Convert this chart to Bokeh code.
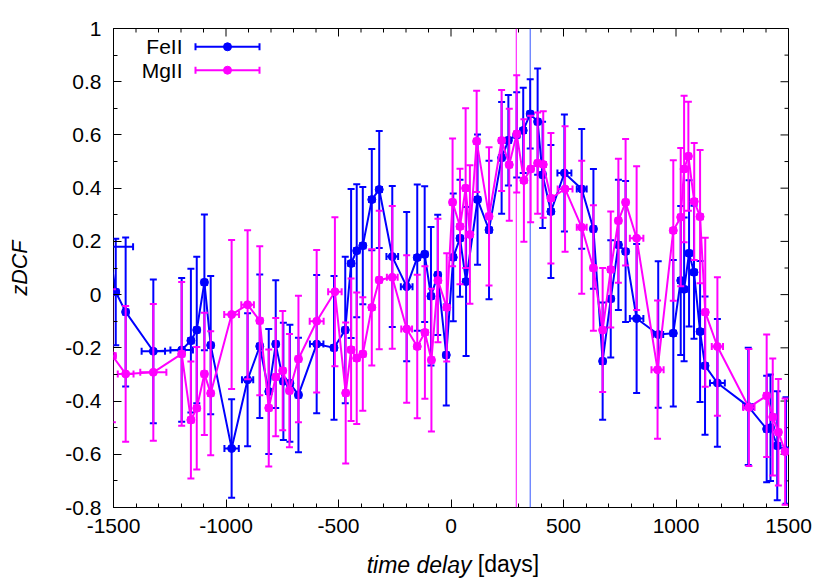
import numpy as np
from math import pi
from bokeh.plotting import figure
from bokeh.models import FixedTicker, LinearAxis, Span, Label, ColumnDataSource, Range1d
from bokeh.embed import file_html
from bokeh.resources import INLINE

# ---------------- data ----------------
fe_x = [-1520, -1490, -1446, -1323, -1197, -1156, -1130, -1096, -1068, -975,
        -904, -850, -810, -779, -745, -716, -678, -597, -520, -470,
        -444, -419, -392, -352, -319, -261, -197, -150, -117, -89,
        -59, -21, 10, 40, 67, 118, 169, 225, 255, 292,
        321, 352, 385, 407, 444, 504, 581, 633, 674, 710,
        744, 776, 825, 921, 988, 1021, 1036, 1058, 1080, 1107,
        1129, 1184, 1321, 1403, 1420, 1450, 1489]
fe_y = [0.18, 0.01, -0.065, -0.213, -0.208, -0.173, -0.133, 0.046, -0.19, -0.578,
        -0.32, -0.194, -0.364, -0.186, -0.326, -0.333, -0.377, -0.186, -0.2, -0.133,
        0.117, 0.165, 0.184, 0.357, 0.395, 0.143, 0.03, 0.139, 0.152, -0.006,
        0.074, -0.227, 0.14, 0.212, 0.049, 0.357, 0.243, 0.514, 0.58, 0.60,
        0.617, 0.679, 0.65, 0.45, 0.312, 0.457, 0.397, 0.247, -0.25, -0.016,
        0.187, 0.162, -0.09, -0.15, -0.145, 0.053, 0.02, 0.155, 0.084, -0.139,
        -0.267, -0.332, -0.42, -0.505, -0.50, -0.568, -0.586]
fe_yerr = [0.2, 0.2, 0.28, 0.27, 0.27, 0.27, 0.275, 0.255, 0.26, 0.185,
           0.25, 0.27, 0.235, 0.24, 0.22, 0.22, 0.215, 0.26, 0.27, 0.275,
           0.28, 0.25, 0.22, 0.19, 0.22, 0.265, 0.28, 0.275, 0.255, 0.26,
           0.226, 0.19, 0.24, 0.22, 0.28, 0.245, 0.26, 0.21, 0.17, 0.16,
           0.16, 0.13, 0.2, 0.2, 0.25, 0.22, 0.225, 0.225, 0.22, 0.22,
           0.245, 0.265, 0.28, 0.275, 0.275, 0.28, 0.27, 0.275, 0.25, 0.265,
           0.26, 0.24, 0.22, 0.2, 0.2, 0.205, 0.2]
fe_xerr = [107, 12, 12, 52, 50, 12, 12, 12, 12, 32,
           25, 12, 12, 12, 12, 12, 12, 30, 12, 12,
           12, 12, 12, 12, 12, 26, 26, 12, 12, 12,
           12, 12, 12, 12, 12, 12, 12, 12, 12, 12,
           12, 12, 12, 12, 12, 31, 22, 12, 12, 12,
           12, 12, 30, 22, 12, 12, 12, 12, 12, 12,
           12, 33, 22, 12, 12, 12, 12]

mg_x = [-1505, -1446, -1323, -1197, -1156, -1130, -1096, -1068, -975, -904,
        -850, -810, -779, -748, -718, -678, -597, -516, -468, -444,
        -419, -392, -352, -319, -261, -197, -150, -116, -87, -58,
        -19, 7, 40, 65, 84, 114, 169, 225, 259, 292,
        324, 354, 385, 410, 444, 507, 581, 633, 674, 710,
        744, 776, 825, 918, 988, 1021, 1036, 1055, 1081, 1107,
        1130, 1184, 1324, 1403, 1430, 1455, 1485]
mg_y = [-0.23, -0.298, -0.292, -0.223, -0.471, -0.427, -0.298, -0.371, -0.075, -0.038,
        -0.098, -0.426, -0.31, -0.286, -0.361, -0.242, -0.1, 0.011, -0.37, -0.207,
        -0.239, -0.223, -0.048, 0.055, 0.065, -0.129, -0.195, -0.142, -0.246, 0.053,
        -0.048, 0.347, 0.256, 0.40, 0.226, 0.576, 0.294, 0.579, 0.488, 0.604,
        0.429, 0.472, 0.494, 0.489, 0.362, 0.397, 0.253, 0.1, -0.133, 0.094,
        0.278, 0.347, 0.212, -0.282, 0.241, 0.291, 0.472, 0.52, 0.35, 0.293,
        -0.066, -0.195, -0.424, -0.38, -0.46, -0.517, -0.59]
mg_yerr = [0.25, 0.255, 0.257, 0.27, 0.22, 0.23, 0.23, 0.233, 0.28, 0.28,
           0.28, 0.22, 0.222, 0.224, 0.213, 0.238, 0.268, 0.28, 0.265, 0.268,
           0.247, 0.213, 0.218, 0.26, 0.268, 0.277, 0.27, 0.249, 0.268, 0.232,
           0.203, 0.24, 0.217, 0.3, 0.26, 0.19, 0.26, 0.19, 0.21, 0.22,
           0.23, 0.2, 0.19, 0.2, 0.245, 0.236, 0.25, 0.236, 0.233, 0.218,
           0.233, 0.238, 0.27, 0.26, 0.264, 0.26, 0.275, 0.205, 0.22, 0.25,
           0.28, 0.26, 0.22, 0.23, 0.22, 0.2, 0.2]
mg_xerr = [15, 35, 58, 12, 12, 12, 12, 12, 33, 28,
           12, 12, 12, 12, 12, 12, 31, 30, 12, 12,
           12, 12, 12, 12, 24, 24, 12, 12, 12, 12,
           12, 12, 12, 12, 12, 12, 12, 12, 12, 12,
           12, 12, 12, 12, 12, 33, 22, 12, 12, 12,
           12, 12, 30, 27, 12, 12, 12, 12, 12, 12,
           12, 25, 25, 12, 12, 12, 12]

peak_mg = 290
peak_fe = 352

x_ticks = [-1500, -1000, -500, 0, 500, 1000, 1500]
x_tick_labels = ["-1500", "-1000", "-500", "0", "500", "1000", "1500"]
y_ticks = [-0.8, -0.6, -0.4, -0.2, 0.0, 0.2, 0.4, 0.6, 0.8, 1.0]
y_tick_labels = ["-0.8", "-0.6", "-0.4", "-0.2", "0", "0.2", "0.4", "0.6", "0.8", "1"]

series = [("FeII", fe_x, fe_y, fe_yerr, fe_xerr, "#0000ff"),
          ("MgII", mg_x, mg_y, mg_yerr, mg_xerr, "#ff00ff")]

# ---------------- figure ----------------
W, H = 830, 581
FL, FR, FT, FB = 113, 788, 28, 507
XR = (-1500, 1500)
YR = (-0.8, 1.0)
FONT = "Liberation Sans"
TICK_FS = "21px"
LAB_FS = "23px"

p = figure(width=W, height=H, x_range=Range1d(*XR), y_range=Range1d(*YR),
           output_backend="svg", toolbar_location=None,
           min_border_left=FL, min_border_right=W - FR,
           min_border_top=FT, min_border_bottom=H - FB)
p.background_fill_color = "white"
p.border_fill_color = "white"
p.outline_line_color = "black"
p.outline_line_width = 1
p.xgrid.visible = False
p.ygrid.visible = False


def dx(fx):
    return XR[0] + (fx - FL) / (FR - FL) * (XR[1] - XR[0])


def dy(fy):
    return YR[0] + (FB - fy) / (FB - FT) * (YR[1] - YR[0])


x_minor = list(range(-1500, 1501, 100))
y_minor = [round(-0.8 + 0.1 * i, 1) for i in range(19)]


def style_axis(ax, ticks, minor, labels):
    ax.ticker = FixedTicker(ticks=ticks, minor_ticks=minor)
    ax.axis_line_color = None
    ax.major_tick_in = 8
    ax.major_tick_out = 0
    ax.minor_tick_in = 4
    ax.minor_tick_out = 0
    ax.major_tick_line_color = "black"
    ax.minor_tick_line_color = "black"
    ax.major_tick_line_width = 1
    ax.minor_tick_line_width = 1
    ax.major_label_overrides = {t: l for t, l in zip(ticks, labels)}
    ax.major_label_text_font = FONT
    ax.major_label_text_font_size = TICK_FS
    ax.major_label_text_color = "black"


xa = p.xaxis[0]
style_axis(xa, x_ticks, x_minor, x_tick_labels)
xa.major_label_standoff = 11
NB = "\u00a0"
xa.axis_label = "time delay" + NB * 10
xa.axis_label_text_font = FONT
xa.axis_label_text_font_size = LAB_FS
xa.axis_label_text_font_style = "italic"
xa.axis_label_text_color = "black"
xa.axis_label_standoff = 16

ya = p.yaxis[0]
style_axis(ya, y_ticks, y_minor, y_tick_labels)
ya.major_label_standoff = 12
ya.axis_label = "zDCF"
ya.axis_label_text_font = FONT
ya.axis_label_text_font_size = "21.5px"
ya.axis_label_text_font_style = "italic"
ya.axis_label_text_color = "black"
ya.axis_label_standoff = 30

# second (tick-less) bottom axis carrying the upright "[days]" part of the label
xa2 = LinearAxis(ticker=FixedTicker(ticks=[]), axis_line_color=None,
                 major_tick_in=0, major_tick_out=0, minor_tick_in=0, minor_tick_out=0,
                 major_label_standoff=0,
                 axis_label=NB * 18 + "[days]", axis_label_text_font=FONT,
                 axis_label_text_font_size=LAB_FS, axis_label_text_font_style="normal",
                 axis_label_text_color="black", axis_label_standoff=-30)
p.add_layout(xa2, "below")

# mirrored inward ticks on top and right (frame-clipped dashes)
top_minor = [t for t in x_minor if t not in x_ticks]
right_minor = [t for t in y_minor if t not in y_ticks]
p.scatter(x=x_ticks, y=[YR[1]] * len(x_ticks), marker="dash", angle=pi / 2, size=16,
          line_color="black", line_width=1)
p.scatter(x=top_minor, y=[YR[1]] * len(top_minor), marker="dash", angle=pi / 2, size=8,
          line_color="black", line_width=1)
p.scatter(x=[XR[1]] * len(y_ticks), y=y_ticks, marker="dash", size=16,
          line_color="black", line_width=1)
p.scatter(x=[XR[1]] * len(right_minor), y=right_minor, marker="dash", size=8,
          line_color="black", line_width=1)

# peak lines
p.add_layout(Span(location=peak_mg, dimension="height", line_color="#ff00ff",
                  line_width=1, level="underlay"))
p.add_layout(Span(location=peak_fe, dimension="height", line_color="#3355ff",
                  line_width=1, level="underlay"))

LW = 2
CAP = 7
for name, xs, ys, yerr, xerr, col in series:
    x = np.array(xs, float)
    y = np.array(ys, float)
    ye = np.array(yerr, float)
    xe = np.array(xerr, float)
    src = ColumnDataSource(dict(x=x, y=y, ylo=y - ye, yhi=y + ye, xlo=x - xe, xhi=x + xe))
    p.segment(x0="x", y0="ylo", x1="x", y1="yhi", source=src, line_color=col, line_width=LW)
    p.scatter(x="x", y="ylo", source=src, marker="dash", size=CAP, line_color=col, line_width=LW)
    p.scatter(x="x", y="yhi", source=src, marker="dash", size=CAP, line_color=col, line_width=LW)
    p.segment(x0="xlo", y0="y", x1="xhi", y1="y", source=src, line_color=col, line_width=LW)
    p.scatter(x="xlo", y="y", source=src, marker="dash", angle=pi / 2, size=CAP, line_color=col, line_width=LW)
    p.scatter(x="xhi", y="y", source=src, marker="dash", angle=pi / 2, size=CAP, line_color=col, line_width=LW)
    p.line(x="x", y="y", source=src, line_color=col, line_width=LW)
    p.scatter(x="x", y="y", source=src, marker="circle", size=8, fill_color=col, line_color=col)

# legend (gnuplot style: text left, sample right)
leg_rows = [46.3, 69.7]
for (name, xs, ys, yerr, xerr, col), fy in zip(series, leg_rows):
    p.add_layout(Label(x=dx(182), y=dy(fy), text=name, text_align="right", text_baseline="middle",
                       text_font=FONT, text_font_size="21px", text_color="black"))
    yy = dy(fy)
    p.segment(x0=[dx(195)], y0=[yy], x1=[dx(259)], y1=[yy], line_color=col, line_width=LW)
    p.scatter(x=[dx(195), dx(259)], y=[yy, yy], marker="dash", angle=pi / 2, size=CAP,
              line_color=col, line_width=LW)
    p.scatter(x=[dx(227)], y=[yy], marker="circle", size=8, fill_color=col, line_color=col)

open("out.html", "w").write(file_html(p, INLINE))
